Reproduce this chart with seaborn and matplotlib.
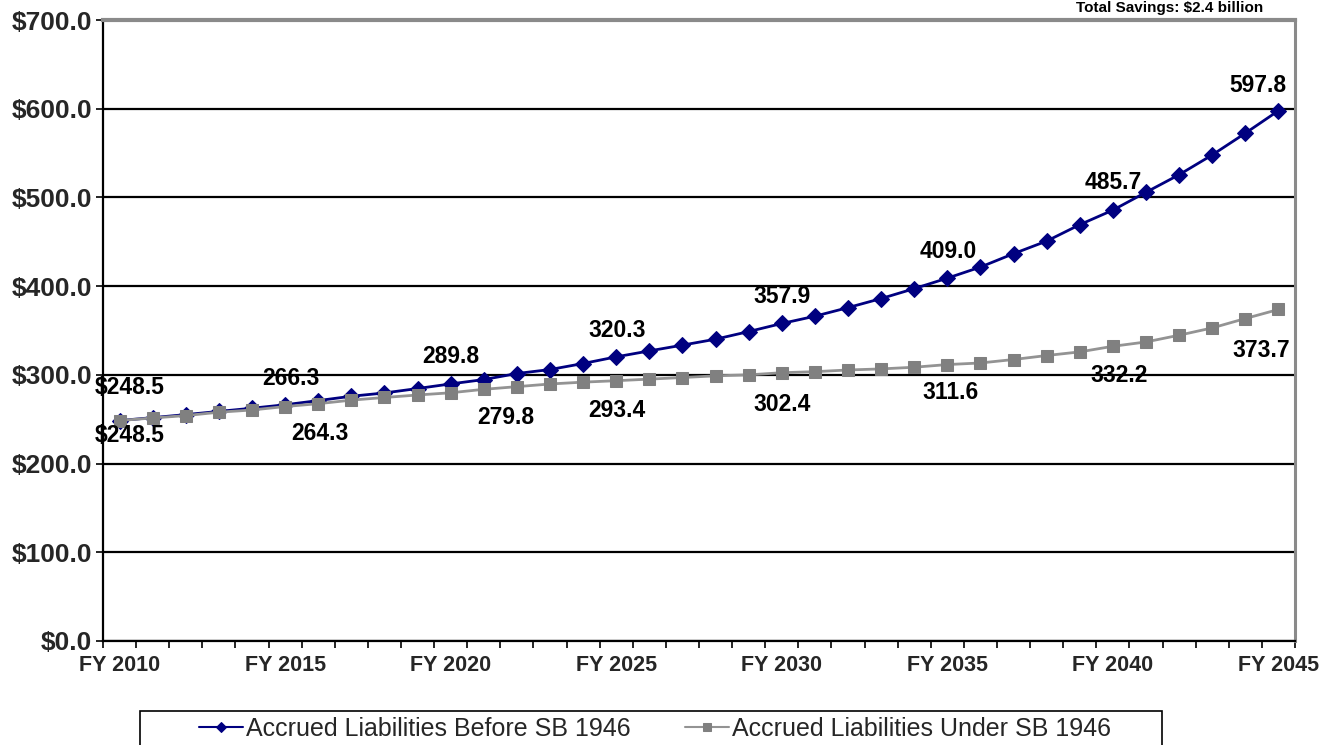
import numpy as np
import pandas as pd
import matplotlib
matplotlib.use("Agg")
import matplotlib.pyplot as plt
import seaborn as sns
from matplotlib.patches import Rectangle

# ---------------- data ----------------
fiscal_years = list(range(2010, 2046))
before_sb1946 = [248.5, 251.8, 255.2, 258.8, 262.4, 266.3, 271.0, 275.9, 279.6, 284.6,
                 289.8, 294.7, 301.5, 306.0, 312.8, 320.3, 327.0, 333.5, 340.2, 348.8,
                 357.9, 366.1, 375.8, 386.0, 397.2, 409.0, 421.5, 436.6, 450.8, 469.3,
                 485.7, 505.8, 525.6, 547.9, 572.4, 597.8]
under_sb1946 = [248.5, 251.4, 254.1, 257.9, 260.4, 264.3, 267.5, 271.5, 274.5, 277.3,
                279.8, 283.7, 286.7, 289.7, 291.8, 293.4, 295.2, 297.0, 298.9, 300.0,
                302.4, 303.6, 305.5, 306.7, 308.6, 311.6, 313.4, 317.3, 321.8, 325.9,
                332.2, 337.1, 344.7, 352.9, 363.5, 373.7]
series_names = ["Accrued Liabilities Before SB 1946", "Accrued Liabilities Under SB 1946"]
x_tick_years = [2010, 2015, 2020, 2025, 2030, 2035, 2040, 2045]
x_tick_labels = ["FY 2010", "FY 2015", "FY 2020", "FY 2025", "FY 2030", "FY 2035", "FY 2040", "FY 2045"]
y_ticks = [0, 100, 200, 300, 400, 500, 600, 700]
y_tick_labels = ["$0.0", "$100.0", "$200.0", "$300.0", "$400.0", "$500.0", "$600.0", "$700.0"]
labeled_years = [2010, 2015, 2020, 2025, 2030, 2035, 2040, 2045]
savings_note = "Total Savings: $2.4 billion"

# label offsets (pixels: dx, dy) - styling only
before_label_offsets = [(10, 33), (6, 26), (0, 27), (1, 26), (0, 27), (1, 26.5), (0, 27.5), (-21, 25)]
under_label_offsets = [(10, -15), (35, -27), (55, -25), (1, -30), (0, -32), (3, -28), (6, -29), (-17, -41)]

df = pd.DataFrame({
    "idx": np.arange(len(fiscal_years)),
    "year": fiscal_years,
    "before": before_sb1946,
    "under": under_sb1946,
})

# ---------------- style ----------------
sns.set_theme(style="white")
plt.rcParams["font.family"] = ["Liberation Sans", "DejaVu Sans"]

W, H = 1335, 745
fig = plt.figure(figsize=(W / 100, H / 100), dpi=100)
ax = fig.add_axes([103 / W, 1 - 641 / H, (1295 - 103) / W, (641 - 20) / H])

BLUE = "#000080"
GRAY = "#808080"

sns.lineplot(data=df, x="idx", y="before", ax=ax, color=BLUE, lw=2.0,
             marker="D", markersize=8, markeredgecolor=BLUE, markerfacecolor=BLUE,
             label=series_names[0], zorder=3)
sns.lineplot(data=df, x="idx", y="under", ax=ax, color="#939393", lw=2.0,
             marker="s", markersize=8.5, markeredgecolor=GRAY, markerfacecolor=GRAY,
             label=series_names[1], zorder=4)

ax.set_xlim(-0.5, len(fiscal_years) - 0.5)
ax.set_ylim(0, 700)
ax.set_xlabel("")
ax.set_ylabel("")

# x axis: labels at category centers, tick marks between categories
tick_idx = [fiscal_years.index(y) for y in x_tick_years]
ax.set_xticks(tick_idx)
ax.set_xticklabels(x_tick_labels, fontsize=15.5, fontweight="bold")
ax.set_xticks(np.arange(-0.5, len(fiscal_years), 1.0), minor=True)
ax.tick_params(axis="x", which="major", length=0, pad=10)
ax.tick_params(axis="x", which="minor", length=5, width=1.2, color="black", direction="out", bottom=True)

ax.set_yticks(y_ticks)
ax.set_yticklabels(y_tick_labels, fontsize=19, fontweight="bold")
ax.tick_params(axis="y", which="major", length=5, width=1.2, color="black", direction="out", left=True, pad=3)

ax.set_axisbelow(True)
ax.yaxis.grid(True, color="black", lw=1.6)
ax.xaxis.grid(False)

for side in ["left", "bottom"]:
    ax.spines[side].set_color("black")
    ax.spines[side].set_linewidth(1.6)
ax.spines["right"].set_color("#8a8a8a")
ax.spines["right"].set_linewidth(2.2)
ax.spines["top"].set_color("#8a8a8a")
ax.spines["top"].set_linewidth(3)

# data labels
px2pt = 0.72
for k, yr in enumerate(labeled_years):
    i = fiscal_years.index(yr)
    vb = before_sb1946[i]
    vu = under_sb1946[i]
    tb = f"${vb:.1f}" if k == 0 else f"{vb:.1f}"
    tu = f"${vu:.1f}" if k == 0 else f"{vu:.1f}"
    dx, dy = before_label_offsets[k]
    ax.annotate(tb, xy=(i, vb), xytext=(dx * px2pt, dy * px2pt), textcoords="offset points",
                ha="center", va="center", fontsize=16.5, fontweight="bold", color="black", zorder=6)
    dx, dy = under_label_offsets[k]
    ax.annotate(tu, xy=(i, vu), xytext=(dx * px2pt, dy * px2pt), textcoords="offset points",
                ha="center", va="center", fontsize=16.5, fontweight="bold", color="black", zorder=6)

# note at top right
fig.text(1170 / W, 1 - 1 / H, savings_note, ha="center", va="top",
         fontsize=11, fontweight="bold", color="black")

# legend
handles, labels = ax.get_legend_handles_labels()
ax.get_legend().remove()
leg = fig.legend(handles, labels, loc="center", bbox_to_anchor=(655 / W, 1 - 729 / H),
                 ncol=2, frameon=False, fontsize=18, handlelength=1.75, handletextpad=0.1,
                 columnspacing=2.2, markerscale=0.65)
for h in leg.legend_handles:
    h.set_linewidth(1.5)

fig.patches.append(Rectangle((140 / W, -0.05), (1162 - 140) / W, 0.05 + (745 - 711) / H,
                             transform=fig.transFigure, fill=False, edgecolor="black", lw=1.2))

fig.savefig("out.png", dpi=100)
